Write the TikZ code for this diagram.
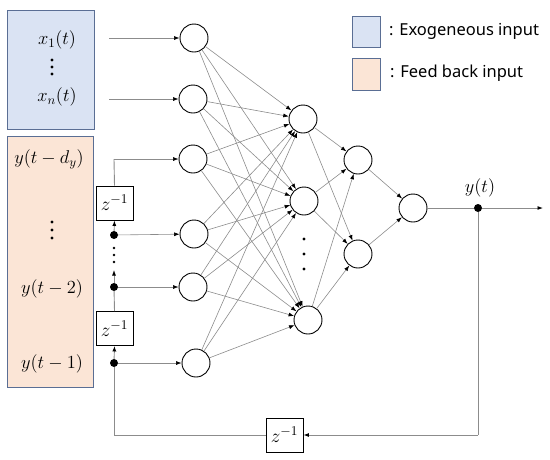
\RequirePackage{fix-cm}
\documentclass[tikz,border=0pt]{standalone}
\usepackage{fontspec}
\setsansfont{Noto Sans}
\usetikzlibrary{arrows.meta}
\definecolor{exofill}{HTML}{DAE3F3}
\definecolor{fbfill}{HTML}{FBE5D6}
\definecolor{boxedge}{HTML}{5A6E94}
\definecolor{wire}{HTML}{8C8C8C}
\begin{document}
\begin{tikzpicture}[x=1pt,y=-1pt,
  neuron/.style={circle,draw=black,line width=0.9pt,minimum size=28pt,inner sep=0pt,fill=white},
  delaybox/.style={draw=black,line width=0.9pt,minimum width=37pt,minimum height=34pt,inner sep=0pt,fill=white},
  ztxt/.style={font=\fontsize{16}{18}\selectfont,inner sep=0pt,scale=1.2},
  conn/.style={draw=wire,line width=0.6pt,-{Latex[length=5.5pt,width=4pt,color=black]}},
  wireline/.style={draw=wire,line width=0.9pt},
  tap/.style={circle,fill=black,inner sep=0pt,minimum size=8pt},
  lbl/.style={font=\fontsize{16.8}{19}\selectfont,inner sep=0pt,scale=1.1},
  vdot/.style={circle,fill=black,inner sep=0pt,minimum size=3.2pt},
  legtxt/.style={font=\sffamily\fontsize{16.5}{18}\selectfont,anchor=west,inner sep=0pt}]
\useasboundingbox (0,0) rectangle (550,459);
% input boxes
\node[draw=boxedge,fill=exofill,line width=0.9pt,minimum width=87pt,minimum height=119pt,inner sep=0pt] (exo) at (50.5,70) {};
\node[draw=boxedge,fill=fbfill,line width=0.9pt,minimum width=86pt,minimum height=251pt,inner sep=0pt] (fb) at (50,261.5) {};
\node[lbl] (x1) at (57,40) {$x_1(t)$};
\node[lbl] (xn) at (57,97) {$x_n(t)$};
\node[lbl] (yd) at (49,159) {$y(t-d_y)$};
\node[lbl] (y2) at (52,289) {$y(t-2)$};
\node[lbl] (y1) at (52,364) {$y(t-1)$};
\foreach \yy/\nm in {60/xa,67/xb,74/xc}{\node[vdot] (\nm) at (52,\yy) {};}
\foreach \yy/\nm in {222/ya,230/yb,238/yc}{\node[vdot] (\nm) at (52,\yy) {};}
% legend
\node[draw=boxedge,fill=exofill,line width=0.9pt,minimum width=28pt,minimum height=31pt,inner sep=0pt] (lg1) at (366,31.5) {};
\node[draw=boxedge,fill=fbfill,line width=0.9pt,minimum width=28pt,minimum height=32pt,inner sep=0pt] (lg2) at (366,74) {};
\node[legtxt] (lt1) at (389,31) {: Exogeneous input};
\node[legtxt] (lt2) at (390,73) {: Feed back input};
% neurons
\node[neuron] (i1) at (194,38) {};
\node[neuron] (i2) at (193,99) {};
\node[neuron] (i3) at (193,159) {};
\node[neuron] (i4) at (194,234) {};
\node[neuron] (i5) at (193,287) {};
\node[neuron] (i6) at (196,363) {};
\node[neuron] (h1) at (303,119) {};
\node[neuron] (h2) at (304,201) {};
\node[neuron] (h3) at (308,320) {};
\node[neuron] (g1) at (358,160) {};
\node[neuron] (g2) at (358,254) {};
\node[neuron] (o) at (413,208) {};
% dots in hidden layer
\foreach \yy/\nm in {239/hd1,254/hd2,269/hd3}{\node[vdot] (\nm) at (304,\yy) {};}
% full connections
\foreach \a in {i1,i2,i3,i4,i5,i6}{\foreach \b in {h1,h2,h3}{\draw[conn] (\a) -- (\b);}}
\foreach \a in {h1,h2,h3}{\foreach \b in {g1,g2}{\draw[conn] (\a) -- (\b);}}
\foreach \a in {g1,g2}{\draw[conn] (\a) -- (o);}
% exogenous inputs
\coordinate (xs1) at (109,38);
\coordinate (xs2) at (109,99);
\draw[conn] (xs1) -- (i1);
\draw[conn] (xs2) -- (i2);
% output
\node[tap] (ot) at (478,208) {};
\node[lbl] (yt) at (480,188) {$y(t)$};
\coordinate (oend) at (543,208);
\draw[wireline] (o) -- (ot);
\draw[wireline,-{Latex[length=5.5pt,width=4pt,color=black]}] (ot) -- (oend);
% feedback loop
\node[delaybox] (zc) at (284.5,435) {};
\node[delaybox] (za) at (114.5,328.5) {};
\node[delaybox] (zb) at (114.5,203) {};
\node[ztxt] (zct) at (zc) {$z^{-1}$};
\node[ztxt] (zat) at (za) {$z^{-1}$};
\node[ztxt] (zbt) at (zb) {$z^{-1}$};
\coordinate (fr) at (478,435);
\coordinate (fl) at (114,435);
\draw[wireline] (ot) -- (fr);
\draw[wireline,-{Latex[length=5.5pt,width=4pt,color=black]}] (fr) -- (zc.east);
\node[tap] (d1) at (114,363) {};
\node[tap] (d2) at (114,287) {};
\node[tap] (d3) at (114,235) {};
\draw[wireline] (zc.west) -- (fl) -- (d1);
\draw[wireline,-{Latex[length=5.5pt,width=4pt,color=black]}] (d1) -- (za.south);
\draw[wireline] (za.north) -- (d2);
\coordinate (da) at (114,270);
\draw[wireline,-{Latex[length=5.5pt,width=4pt,color=black]}] (d2) -- (da);
\foreach \yy/\nm in {248/fa,255/fb2,262/fc}{\node[vdot,minimum size=2.8pt] (\nm) at (114,\yy) {};}
\draw[wireline,-{Latex[length=5.5pt,width=4pt,color=black]}] (d3) -- (zb.south);
\coordinate (zt) at (114,159);
\draw[wireline] (zb.north) -- (zt);
\draw[conn] (zt) -- (i3);
\draw[conn] (d3) -- (i4);
\draw[conn] (d2) -- (i5);
\draw[conn] (d1) -- (i6);
\end{tikzpicture}
\end{document}
